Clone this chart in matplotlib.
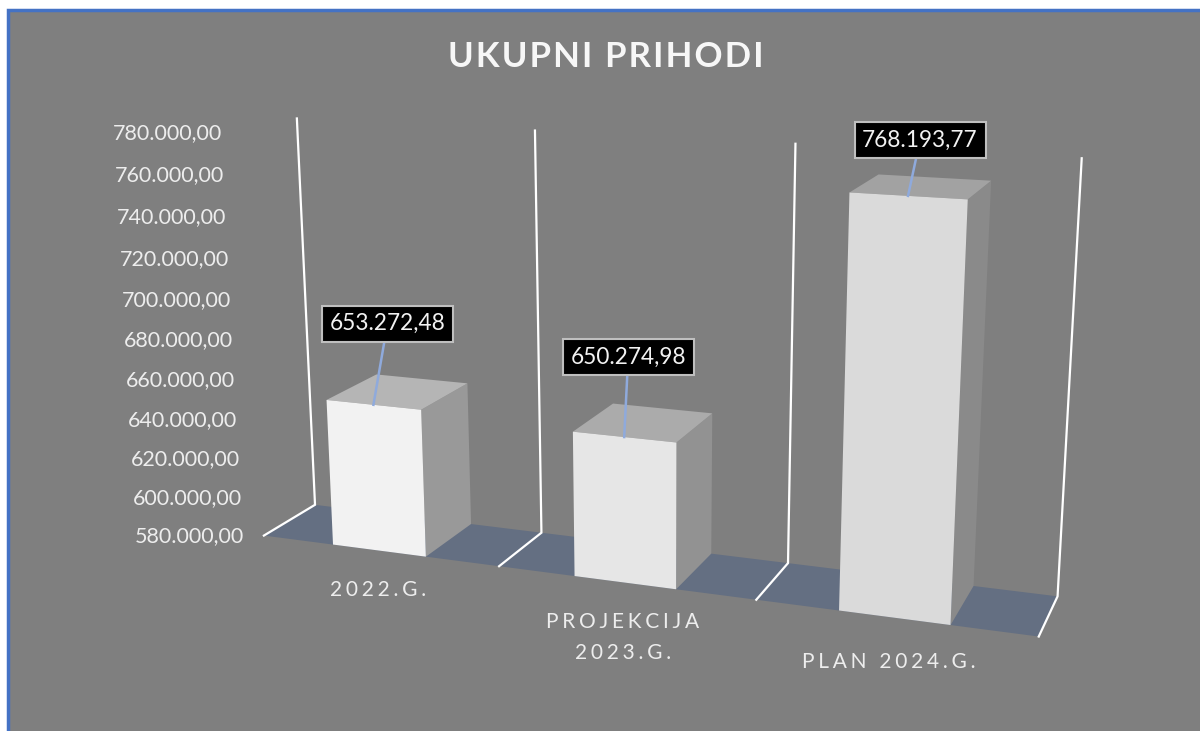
import numpy as np
import matplotlib
matplotlib.use("Agg")
import matplotlib.pyplot as plt
from matplotlib.patches import Polygon, Rectangle

plt.rcParams['font.family'] = ['Lato', 'DejaVu Sans']

# data
categories = ["2022.G.", "PROJEKCIJA\n2023.G.", "PLAN 2024.G."]
values = [653272.48, 650274.98, 768193.77]
value_labels = ["653.272,48", "650.274,98", "768.193,77"]
ticks = [580000, 600000, 620000, 640000, 660000, 680000, 700000, 720000, 740000, 760000, 780000]
tick_labels = ["580.000,00", "600.000,00", "620.000,00", "640.000,00", "660.000,00", "680.000,00",
               "700.000,00", "720.000,00", "740.000,00", "760.000,00", "780.000,00"]
title = "UKUPNI PRIHODI"

# colours per bar: front, top, side
front_cols = ["#F2F2F2", "#E6E6E6", "#DADADA"]
top_cols = ["#B5B5B5", "#ABABAB", "#A2A2A2"]
side_cols = ["#999999", "#929292", "#8A8A8A"]
bg = "#7F7F7F"
floor_col = "#646F82"
vmin, vmax = ticks[0], ticks[-1]

# the "camera": where the corners of the chart box land in the picture
# (category, 0=floor 1=top, depth) -> pixel
anchors = [
    (0, 0, 0, 264, 536), (1, 0, 0, 499, 566), (2, 0, 0, 756, 600), (3, 0, 0, 1039, 636),
    (0, 0, 1, 315, 505), (1, 0, 1, 541, 532), (2, 0, 1, 789, 563), (3, 0, 1, 1057, 597),
    (0, 1, 1, 297, 118), (1, 1, 1, 535, 131), (2, 1, 1, 795, 144), (3, 1, 1, 1082, 158),
]
rows = []
for u, v, d, px, py in anchors:
    rows.append([u, v, d, 1, 0, 0, 0, 0, -px*u, -px*v, -px*d, -px])
    rows.append([0, 0, 0, 0, u, v, d, 1, -py*u, -py*v, -py*d, -py])
P = np.linalg.svd(np.array(rows, dtype=float))[2][-1].reshape(3, 4)


def project(u, val, d):
    h = P @ np.array([u, (val - vmin) / (vmax - vmin), d, 1.0])
    return h[0] / h[2], h[1] / h[2]


def spaced(s, sep="\u200a\u200a\u200a"):
    return "\n".join(sep.join(line) for line in s.split("\n"))


fig = plt.figure(figsize=(12, 7.31), dpi=100, facecolor="white")
ax = fig.add_axes([0, 0, 1, 1])
ax.set_xlim(0, 1200)
ax.set_ylim(731, 0)
ax.axis("off")

ax.add_patch(Rectangle((7.5, 9.5), 1300, 800, facecolor=bg, edgecolor="#4472C4", linewidth=2.5, zorder=0))

# floor
floor = [project(0, vmin, 0), project(3, vmin, 0), project(3, vmin, 1), project(0, vmin, 1)]
ax.add_patch(Polygon(floor, closed=True, facecolor=floor_col, edgecolor="none", zorder=1))

# wall lines and the small floor dividers
for u in range(4):
    pts = [project(u, vmin, 0), project(u, vmin, 1), project(u, vmax, 1)]
    ax.plot([p[0] for p in pts], [p[1] for p in pts], color="white", linewidth=1.6, zorder=2,
            solid_joinstyle="miter")

# bars
b0, b1 = 0.303, 0.698
for i, val in enumerate(values):
    l, r = i + b0, i + b1
    front = [project(l, vmin, 0), project(r, vmin, 0), project(r, val, 0), project(l, val, 0)]
    side = [project(r, vmin, 0), project(r, vmin, 1), project(r, val, 1), project(r, val, 0)]
    top = [project(l, val, 0), project(r, val, 0), project(r, val, 1), project(l, val, 1)]
    ax.add_patch(Polygon(side, closed=True, facecolor=side_cols[i], edgecolor="none", zorder=3))
    ax.add_patch(Polygon(top, closed=True, facecolor=top_cols[i], edgecolor="none", zorder=3))
    ax.add_patch(Polygon(front, closed=True, facecolor=front_cols[i], edgecolor="none", zorder=4))

# value labels with leader lines
label_offsets = [(14, -81), (4, -80), (12, -56)]
for i, val in enumerate(values):
    x0, y0 = project(i + (b0 + b1) / 2, val, 0)
    dx, dy = label_offsets[i]
    ax.plot([x0, x0 + dx], [y0, y0 + dy], color="#8FAADC", linewidth=1.8, zorder=5)
    ax.text(x0 + dx, y0 + dy, value_labels[i], color="#F2F2F2", fontsize=16.3, ha="center", va="center", zorder=7,
            bbox=dict(boxstyle="square,pad=0.34", facecolor="black", edgecolor="#BFBFBF", linewidth=1.5))

# value axis
for t, lab in zip(ticks, tick_labels):
    x, y = project(0, t, 0)
    ax.text(x - 20, y + 1, lab, color="#EDEDED", fontsize=15.5, ha="right", va="center", zorder=6)

# categories
cat_offsets = [(-1, 39), (-2, 55), (-5, 44)]
for i, c in enumerate(categories):
    x, y = project(i + 0.5, vmin, 0)
    dx, dy = cat_offsets[i]
    ax.text(x + dx, y + dy, spaced(c), color="#EDEDED", fontsize=15, ha="center", va="center",
            linespacing=1.7, zorder=6)

ax.text(606, 57, spaced(title, "\u200a"), color="#F7F7F7", fontsize=25, fontweight="bold", ha="center", va="center",
        zorder=6)

fig.savefig("out.png", dpi=100, facecolor="white")
